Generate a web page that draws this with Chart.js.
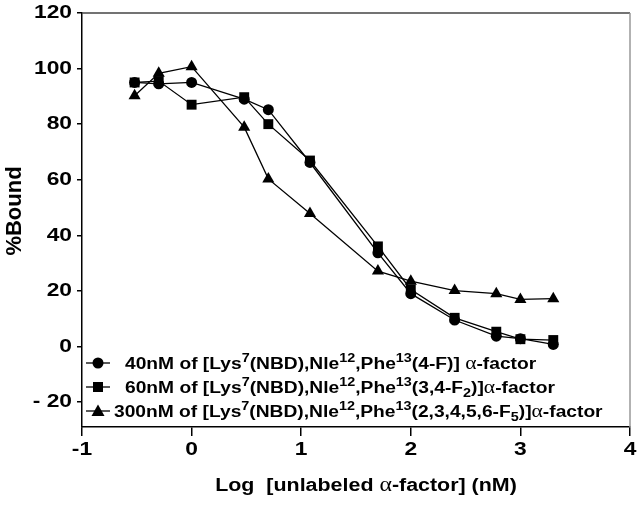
<!DOCTYPE html>
<html>
<head>
<meta charset="utf-8">
<script src="https://cdn.jsdelivr.net/npm/chart.js@4.4.1/dist/chart.umd.min.js"></script>
<style>
  html, body { margin: 0; padding: 0; background: #fff; }
  #wrap { width: 639px; height: 508px; }
</style>
</head>
<body>
<div id="wrap"><canvas id="bindChart" width="639" height="508"></canvas></div>
<script>
// log of unlabeled alpha-factor concentration (nM)
const logConc = [-0.52, -0.30, 0.00, 0.48, 0.70, 1.08, 1.70, 2.00, 2.40, 2.78, 3.00, 3.30];

// % bound for each labeled analog
const bound40 = [95, 94.5, 95, 89, 85.2, 66.2, 33.7, 19, 9.5, 3.7, 2.8, 0.7];
const bound60 = [95, 95.5, 87, 89.7, 80, 66.9, 36, 20.5, 10.3, 5.3, 2.6, 2.3];
const bound300 = [90.2, 98.3, 100.7, 78.9, 60.3, 47.8, 27.1, 23.5, 20.1, 19, 16.9, 17.2];

const xTicks = [-1, 0, 1, 2, 3, 4];
const yTicks = [-20, 0, 20, 40, 60, 80, 100, 120];

// legend texts: [text, kind]  kind: n = normal, sup, sub, g = greek
const label40 = [["40nM of [Lys", "n"], ["7", "sup"], ["(NBD),Nle", "n"], ["12", "sup"], [",Phe", "n"], ["13", "sup"], ["(4-F)] ", "n"], ["\u03b1", "g"], ["-factor", "n"]];
const label60 = [["60nM of [Lys", "n"], ["7", "sup"], ["(NBD),Nle", "n"], ["12", "sup"], [",Phe", "n"], ["13", "sup"], ["(3,4-F", "n"], ["2", "sub"], [")]", "n"], ["\u03b1", "g"], ["-factor", "n"]];
const label300 = [["300nM of [Lys", "n"], ["7", "sup"], ["(NBD),Nle", "n"], ["12", "sup"], [",Phe", "n"], ["13", "sup"], ["(2,3,4,5,6-F", "n"], ["5", "sub"], [")]", "n"], ["\u03b1", "g"], ["-factor", "n"]];
const xTitle = [["Log  [unlabeled ", "n"], ["\u03b1", "g"], ["-factor] (nM)", "n"]];
const yTitle = "%Bound";

const FONT = "'Liberation Sans', Arial, sans-serif";

function segFont(kind, size) {
    if (kind === "sup" || kind === "sub") return "bold " + Math.round(size * 0.72) + "px " + FONT;
    if (kind === "g") return Math.round(size * 1.1) + "px 'Liberation Serif', serif";
    return "bold " + size + "px " + FONT;
}

// draws mixed text (super/subscripts, greek), stretched a bit horizontally like the original
function drawRich(ctx, segs, x, y, size, sx, align) {
    ctx.save();
    let total = 0;
    segs.forEach(s => { ctx.font = segFont(s[1], size); total += ctx.measureText(s[0]).width; });
    let start = x;
    if (align === "center") start = x - total * sx / 2;
    if (align === "right") start = x - total * sx;
    ctx.translate(start, y);
    ctx.scale(sx, 1);
    ctx.fillStyle = "#000";
    ctx.textAlign = "left";
    let cx = 0;
    segs.forEach(s => {
        ctx.font = segFont(s[1], size);
        let dy = 0;
        if (s[1] === "sup") dy = -size * 0.42;
        if (s[1] === "sub") dy = size * 0.22;
        ctx.fillText(s[0], cx, dy);
        cx += ctx.measureText(s[0]).width;
    });
    ctx.restore();
}

function drawMarker(ctx, style, x, y) {
    ctx.beginPath();
    if (style === "circle") {
        ctx.arc(x, y, 5.5, 0, Math.PI * 2);
    } else if (style === "rect") {
        ctx.rect(x - 5, y - 5, 10, 10);
    } else {
        ctx.moveTo(x, y - 6.5);
        ctx.lineTo(x + 6.5, y + 5);
        ctx.lineTo(x - 6.5, y + 5);
        ctx.closePath();
    }
    ctx.fill();
}

const decorPlugin = {
    id: "decor",
    beforeDatasetsDraw(chart) {
        const ctx = chart.ctx;
        const a = chart.chartArea;
        ctx.save();
        ctx.lineWidth = 1.5;
        ctx.strokeStyle = "#444";
        ctx.beginPath();
        ctx.moveTo(a.left, a.top);
        ctx.lineTo(a.right, a.top);
        ctx.stroke();
        ctx.strokeStyle = "#999";
        ctx.beginPath();
        ctx.moveTo(a.right, a.top);
        ctx.lineTo(a.right, a.bottom);
        ctx.stroke();
        ctx.restore();
    },
    afterDraw(chart) {
        const ctx = chart.ctx;
        const xs = chart.scales.x, ys = chart.scales.y;

        // tick labels
        ctx.save();
        ctx.textBaseline = "middle";
        xTicks.forEach(v => {
            drawRich(ctx, [[String(v), "n"]], xs.getPixelForValue(v), 450, 19, 1.2, "center");
        });
        yTicks.forEach(v => {
            const t = v < 0 ? "- " + Math.abs(v) : String(v);
            drawRich(ctx, [[t, "n"]], 72, ys.getPixelForValue(v), 19, 1.2, "right");
        });
        ctx.restore();

        // legend
        const rows = [
            { style: "circle", label: label40, y: 363, tx: 125 },
            { style: "rect", label: label60, y: 387, tx: 125 },
            { style: "triangle", label: label300, y: 411, tx: 114 }
        ];
        ctx.save();
        ctx.fillStyle = "#000";
        ctx.strokeStyle = "#000";
        ctx.lineWidth = 1.3;
        ctx.textBaseline = "alphabetic";
        rows.forEach(r => {
            ctx.beginPath();
            ctx.moveTo(86, r.y);
            ctx.lineTo(110, r.y);
            ctx.stroke();
            drawMarker(ctx, r.style, 98, r.y);
            drawRich(ctx, r.label, r.tx, r.y + 6, 16, 1.2, "left");
        });

        // axis titles
        drawRich(ctx, xTitle, 366, 491, 18, 1.19, "center");
        ctx.translate(21, 211);
        ctx.rotate(-Math.PI / 2);
        ctx.font = "bold 22px " + FONT;
        ctx.textAlign = "center";
        ctx.fillText(yTitle, 0, 0);
        ctx.restore();
    }
};

function series(values, style, radius) {
    return {
        data: values.map((v, i) => ({ x: logConc[i], y: v })),
        borderColor: "#000",
        backgroundColor: "#000",
        borderWidth: 1.3,
        pointStyle: style,
        pointRadius: radius,
        pointBorderWidth: 0,
        pointBackgroundColor: "#000",
        tension: 0,
        fill: false
    };
}

const ctx = document.getElementById("bindChart").getContext("2d");
new Chart(ctx, {
    type: "line",
    data: {
        datasets: [
            series(bound40, "circle", 5.5),
            series(bound60, "rect", 7),
            series(bound300, "triangle", 7)
        ]
    },
    options: {
        responsive: false,
        animation: false,
        devicePixelRatio: 1,
        layout: { padding: { top: 13, right: 9, left: 0, bottom: 0 } },
        plugins: { legend: { display: false }, tooltip: { enabled: false } },
        scales: {
            x: {
                type: "linear",
                min: -1,
                max: 4,
                afterBuildTicks: s => { s.ticks = xTicks.map(v => ({ value: v })); },
                afterFit: s => { s.height = 81; },
                grid: { drawOnChartArea: false, drawTicks: true, tickLength: 9, color: "#000", lineWidth: 1.5 },
                border: { display: true, color: "#000", width: 1.5 },
                ticks: { display: false }
            },
            y: {
                min: -29,
                max: 120,
                afterBuildTicks: s => { s.ticks = yTicks.map(v => ({ value: v })); },
                afterFit: s => { s.width = 82; },
                grid: { drawOnChartArea: false, drawTicks: true, tickLength: 5, color: "#000", lineWidth: 1.5 },
                border: { display: true, color: "#000", width: 1.5 },
                ticks: { display: false }
            }
        }
    },
    plugins: [decorPlugin]
});
</script>
</body>
</html>
